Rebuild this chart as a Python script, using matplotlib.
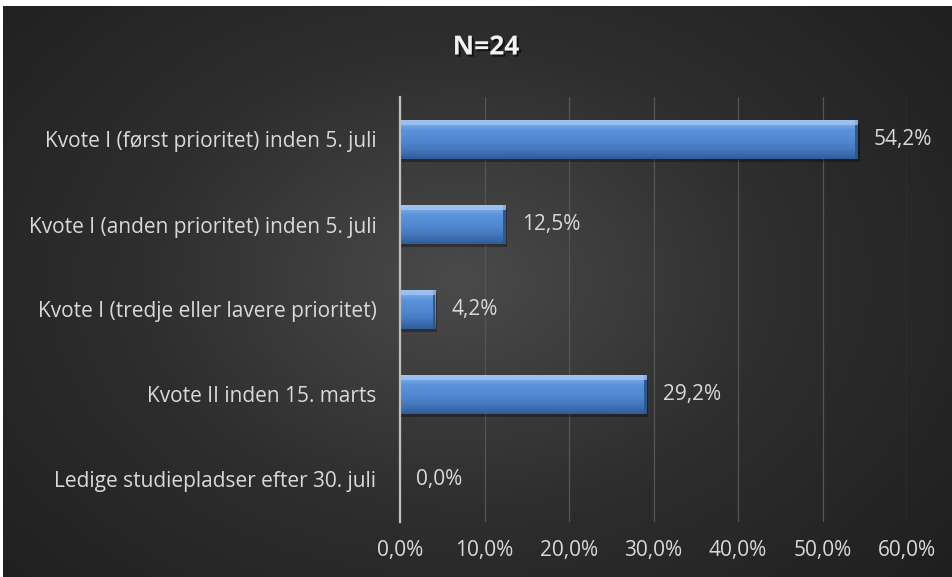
import numpy as np
import matplotlib
matplotlib.use("Agg")
import matplotlib.pyplot as plt
from matplotlib.colors import LinearSegmentedColormap
from matplotlib.ticker import FuncFormatter
import matplotlib.patheffects as pe

# Data
categories = [
    "Kvote I (først prioritet) inden 5. juli",
    "Kvote I (anden prioritet) inden 5. juli",
    "Kvote I (tredje eller lavere prioritet)",
    "Kvote II inden 15. marts",
    "Ledige studiepladser efter 30. juli",
]
values = [0.542, 0.125, 0.042, 0.292, 0.0]
x_ticks = [0.0, 0.1, 0.2, 0.3, 0.4, 0.5, 0.6]
title = "N=24"

TEXT = "#d9d9d9"
plt.rcParams['font.family'] = ['Open Sans', 'DejaVu Sans']


def pct(v, pos=None):
    return f"{v * 100:.1f}%".replace(".", ",")


def main():
    fig = plt.figure(figsize=(9.52, 5.77), dpi=100)
    fig.patch.set_facecolor("white")

    # Dark radial background (thin white strip at top / left like the source)
    bg = fig.add_axes([3 / 952, 0, 1 - 3 / 952, 1 - 6 / 577])
    bg.set_axis_off()
    yy, xx = np.mgrid[0:1:300j, 0:1:500j]
    r = np.sqrt(((xx - 0.48) / 0.75) ** 2 + ((yy - 0.52) / 0.9) ** 2)
    shade = np.clip(1 - r, 0, 1)
    bg_cmap = LinearSegmentedColormap.from_list("bg", ["#1f1f1f", "#2e2e2e", "#4a4a4a"])
    bg.imshow(shade, cmap=bg_cmap, aspect="auto", extent=[0, 1, 0, 1], origin="lower")
    bg.set_xlim(0, 1)
    bg.set_ylim(0, 1)

    ax = fig.add_axes([400 / 952, 1 - 522 / 577, 507 / 952, 425 / 577])
    ax.patch.set_alpha(0)

    y_pos = np.arange(len(categories))
    bars = ax.barh(y_pos, values, height=0.45, color="#4f81bd", zorder=3)

    # Gradient + bevel look on each bar
    bar_cmap = LinearSegmentedColormap.from_list(
        "bar", ["#2f5d9a", "#4579bf", "#5289d2", "#5b93db", "#8fbaeb"])
    grad = np.linspace(0, 1, 100).reshape(-1, 1)
    for b in bars:
        x0, y0, w, h = b.get_x(), b.get_y(), b.get_width(), b.get_height()
        if w <= 0:
            continue
        # soft shadow
        ax.add_patch(plt.Rectangle((x0, y0 + h * 0.08), w + 0.002, h,
                                   color="black", alpha=0.3, zorder=2, lw=0))
        im = ax.imshow(grad, cmap=bar_cmap, aspect="auto", zorder=4,
                       extent=[x0, x0 + w, y0 + h, y0], origin="lower")
        im.set_clip_path(b)
        # darker right end
        ax.add_patch(plt.Rectangle((x0 + w - 0.003, y0), 0.003, h,
                                   color="#2d5890", zorder=5, lw=0))
        # light top edge
        ax.add_patch(plt.Rectangle((x0, y0), w, h * 0.12,
                                   color="#9fc5f2", alpha=0.8, zorder=5, lw=0))

    for y, v in zip(y_pos, values):
        ax.text(v + 0.019, y, pct(v), va="center", ha="left",
                color=TEXT, fontsize=15, zorder=6)

    ax.set_xlim(0, 0.6)
    ax.set_ylim(len(categories) - 0.5, -0.5)
    ax.set_xticks(x_ticks)
    ax.xaxis.set_major_formatter(FuncFormatter(pct))
    ax.set_yticks(y_pos)
    ax.set_yticklabels(categories)
    ax.tick_params(axis="both", length=0, colors=TEXT, labelsize=15)
    ax.tick_params(axis="x", pad=13)
    ax.tick_params(axis="y", pad=17)

    ax.grid(axis="x", color="#555555", linewidth=0.9, zorder=0)
    for s in ["top", "right", "bottom"]:
        ax.spines[s].set_visible(False)
    ax.spines["left"].set_color("#bfbfbf")
    ax.spines["left"].set_linewidth(1.6)
    ax.spines["left"].set_zorder(7)

    fig.text(486 / 952, 1 - 47 / 577, title, ha="center", va="center",
             color="#f2f2f2", fontsize=19, fontweight="bold",
             path_effects=[pe.withSimplePatchShadow(offset=(1.5, -1.5),
                                                    shadow_rgbFace="black", alpha=0.6)])

    fig.savefig("out.png", dpi=100, facecolor=fig.get_facecolor())


main()
